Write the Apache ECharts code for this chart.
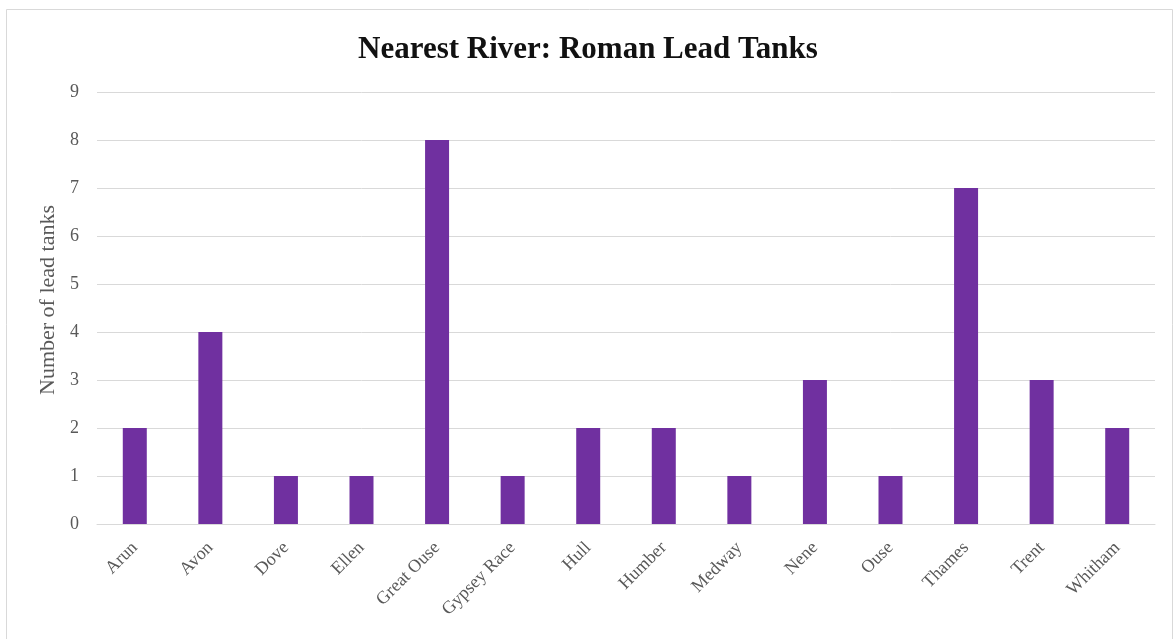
<!DOCTYPE html>
<html>
<head>
<meta charset="utf-8">
<title>Nearest River: Roman Lead Tanks</title>
<script src="https://cdn.jsdelivr.net/npm/echarts@6/dist/echarts.min.js"></script>
<style>
  html, body { margin: 0; padding: 0; background: #ffffff; }
  #chart { width: 1176px; height: 639px; }
</style>
</head>
<body>
<div id="chart"></div>
<script>
// Rivers nearest to each find-spot and how many Roman lead tanks were found there
const rivers = ['Arun', 'Avon', 'Dove', 'Ellen', 'Great Ouse', 'Gypsey Race', 'Hull',
  'Humber', 'Medway', 'Nene', 'Ouse', 'Thames', 'Trent', 'Whitham'];
const tankCounts = [2, 4, 1, 1, 8, 1, 2, 2, 1, 3, 1, 7, 3, 2];
const yTicks = [0, 1, 2, 3, 4, 5, 6, 7, 8, 9];

const serif = '"Liberation Serif", "Times New Roman", serif';
const labelGrey = '#595959';
const gridGrey = '#d9d9d9';

const chart = echarts.init(document.getElementById('chart'), null, { renderer: 'canvas' });

chart.setOption({
  backgroundColor: '#ffffff',
  animation: false,
  graphic: [{
    type: 'rect',
    silent: true,
    shape: { x: 6.5, y: 9.5, width: 1166, height: 640 },
    style: { fill: 'none', stroke: gridGrey, lineWidth: 1 }
  }],
  title: {
    text: 'Nearest River: Roman Lead Tanks',
    left: 'center',
    top: 29,
    textStyle: { fontFamily: serif, fontSize: 31, fontWeight: 'bold', color: '#111111' }
  },
  grid: { left: 97, right: 21, top: 92, bottom: 115 },
  xAxis: {
    type: 'category',
    data: rivers,
    axisLine: { show: true, lineStyle: { color: gridGrey, width: 1 } },
    axisTick: { show: false },
    axisLabel: {
      rotate: 45,
      interval: 0,
      margin: 21,
      fontFamily: serif,
      fontSize: 18,
      color: labelGrey
    }
  },
  yAxis: {
    type: 'value',
    min: yTicks[0],
    max: yTicks[yTicks.length - 1],
    interval: 1,
    name: 'Number of lead tanks',
    nameLocation: 'middle',
    nameGap: 36,
    nameRotate: 90,
    nameTextStyle: { fontFamily: serif, fontSize: 22, color: labelGrey, padding: [0, 0, 0, 16] },
    axisLine: { show: false },
    axisTick: { show: false },
    splitLine: { lineStyle: { color: gridGrey, width: 1 } },
    axisLabel: { margin: 18, fontFamily: serif, fontSize: 18, color: labelGrey }
  },
  series: [{
    type: 'bar',
    data: tankCounts,
    barWidth: 24,
    itemStyle: { color: '#7030A0' }
  }]
});
</script>
</body>
</html>
